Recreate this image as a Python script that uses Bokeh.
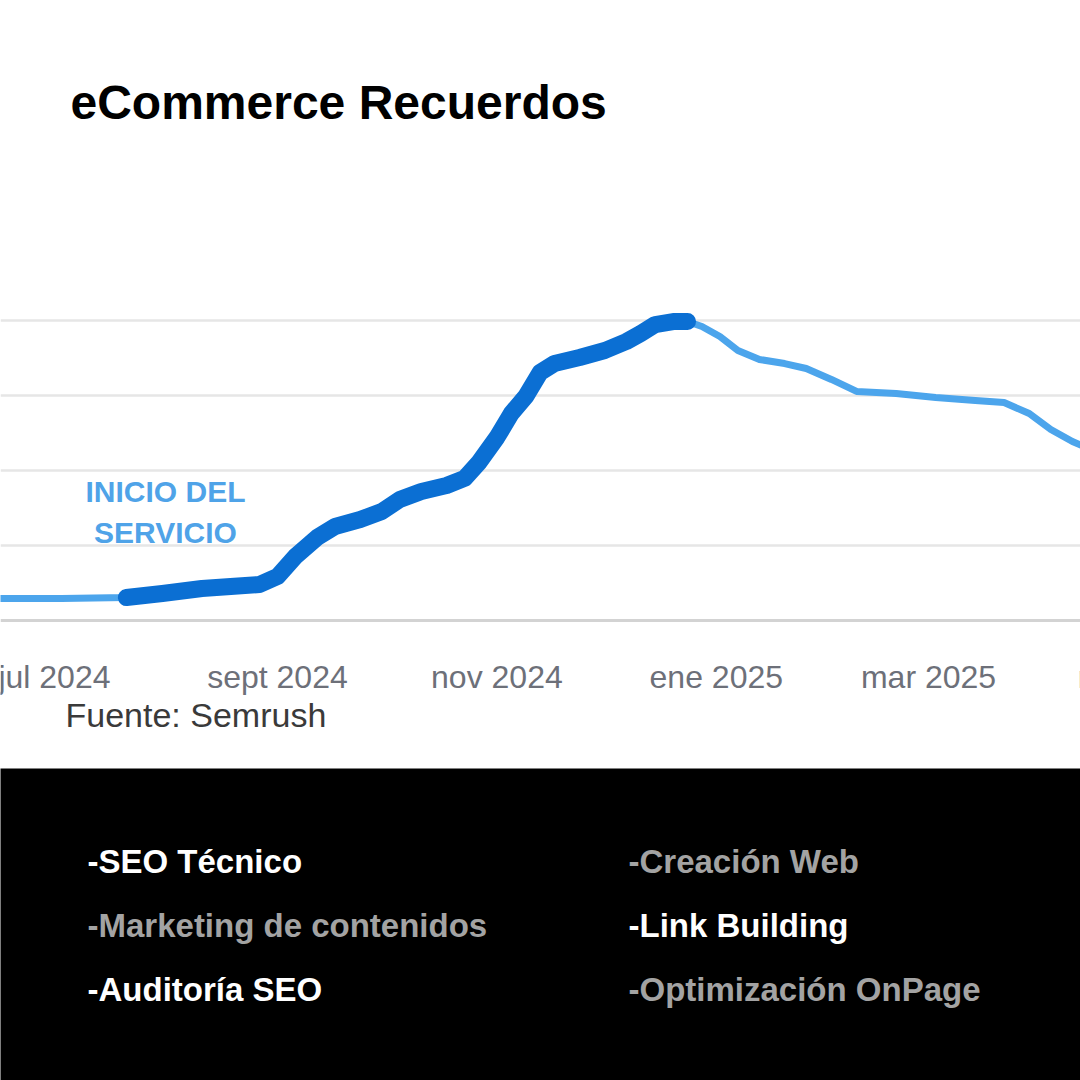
import pandas as pd
from bokeh.plotting import figure
from bokeh.models import Range1d, FixedTicker, Span, Label, ColumnDataSource, Grid
from bokeh.layouts import column
from bokeh.embed import file_html
from bokeh.resources import INLINE
from bokeh.core.properties import value

# ---------------- data ----------------
title_text = "eCommerce Recuerdos"
source_text = "Fuente: Semrush"
annotation_lines = ["INICIO DEL", "SERVICIO"]

dates = [
    "2024-06-10", "2024-06-16", "2024-07-03", "2024-07-21", "2024-07-31",
    "2024-08-11", "2024-08-19", "2024-08-27", "2024-09-01", "2024-09-06",
    "2024-09-12", "2024-09-17", "2024-09-24", "2024-09-30", "2024-10-05",
    "2024-10-11", "2024-10-18", "2024-10-23", "2024-10-27", "2024-11-01",
    "2024-11-05", "2024-11-09", "2024-11-13", "2024-11-17", "2024-11-24",
    "2024-12-01", "2024-12-07", "2024-12-11", "2024-12-15", "2024-12-20",
    "2024-12-24", "2024-12-28", "2025-01-02", "2025-01-07", "2025-01-13",
    "2025-01-20", "2025-01-26", "2025-02-02", "2025-02-09", "2025-02-20",
    "2025-03-03", "2025-03-14", "2025-03-22", "2025-03-29", "2025-04-04",
    "2025-04-10", "2025-04-16",
]
traffic = [
    147, 147, 147, 153, 180,
    213, 227, 240, 293, 427,
    553, 627, 673, 727, 807,
    860, 900, 947, 1053, 1220,
    1380, 1493, 1653, 1713, 1753,
    1800, 1860, 1913, 1973, 1993,
    1993, 1960, 1893, 1800, 1740,
    1713, 1680, 1607, 1527, 1513,
    1487, 1467, 1453, 1380, 1273,
    1193, 1133,
]
service_start = "2024-07-21"
service_end = "2024-12-24"

tick_dates = ["2024-07-01", "2024-09-01", "2024-11-01", "2025-01-01", "2025-03-01", "2025-05-01"]
tick_labels = ["jul 2024", "sept 2024", "nov 2024", "ene 2025", "mar 2025", "may 2025"]
grid_values = [500, 1000, 1500, 2000]

services = [
    "-SEO Técnico", "-Creación Web",
    "-Marketing de contenidos", "-Link Building",
    "-Auditoría SEO", "-Optimización OnPage",
]
highlighted = [True, False, False, True, True, False]

# ---------------- layout constants ----------------
W, H1, H2 = 1080, 768, 312
FONT = "Liberation Sans"
x_start = pd.Timestamp("2024-06-16")
px_per_day = 3.597
x_end = x_start + pd.Timedelta(days=W / px_per_day)
base_px = 620.0               # baseline position from top (px)
px_per_unit = 75.0 / 500.0    # vertical scale
y_top = base_px / px_per_unit
y_bot = -(H1 - base_px) / px_per_unit

df = pd.DataFrame({"date": pd.to_datetime(dates), "traffic": traffic})
svc = df[(df["date"] >= pd.Timestamp(service_start)) & (df["date"] <= pd.Timestamp(service_end))]

# ---------------- chart figure ----------------
p = figure(
    width=W, height=H1, x_axis_type="datetime",
    x_range=Range1d(x_start, x_end), y_range=Range1d(y_bot, y_top),
    x_axis_location=None, y_axis_location=None,
    toolbar_location=None, output_backend="svg", min_border=0,
    outline_line_color=None, background_fill_color="white", border_fill_color="white",
)
for g in p.grid:
    g.visible = False
p.add_layout(Grid(dimension=1, ticker=FixedTicker(ticks=grid_values),
                  grid_line_color="#e6e6e6", grid_line_width=2.5))
p.add_layout(Span(location=0, dimension="width", line_color="#d3d3d3", line_width=3))

p.line(df["date"], df["traffic"], line_color="#4ca5ec", line_width=7, line_join="round")
p.line(svc["date"], svc["traffic"], line_color="#0b6fd3", line_width=17,
       line_join="round", line_cap="round")

tick_src = ColumnDataSource(dict(x=pd.to_datetime(tick_dates), label=tick_labels,
                                 y=[(base_px - 676) / px_per_unit] * len(tick_labels)))
p.text(x="x", y="y", text="label", source=tick_src, text_align="center",
       text_baseline="alphabetic", text_font=value(FONT), text_font_size="32px",
       text_color="#6d7079")

p.add_layout(Label(x=70, y=H1 - 102, x_units="screen", y_units="screen", text=title_text,
                   text_font=FONT, text_font_size="48px", text_font_style="bold",
                   text_color="#000000", text_baseline="alphabetic"))
p.add_layout(Label(x=65, y=H1 - 714, x_units="screen", y_units="screen", text=source_text,
                   text_font=FONT, text_font_size="34px", text_color="#3a3a3a",
                   text_baseline="alphabetic"))
for i, line in enumerate(annotation_lines):
    p.add_layout(Label(x=165, y=H1 - 491 - 41 * i, x_units="screen", y_units="screen",
                       text=line, text_font=FONT, text_font_size="30px",
                       text_font_style="bold", text_color="#4fa3e8",
                       text_align="center", text_baseline="alphabetic"))

# ---------------- services panel ----------------
q = figure(
    width=W, height=H2, x_range=Range1d(0, W), y_range=Range1d(0, H2),
    x_axis_location=None, y_axis_location=None,
    toolbar_location=None, output_backend="svg", min_border=0,
    outline_line_color=None, background_fill_color="black", border_fill_color="black",
)
for g in q.grid:
    g.visible = False
col_x = [87, 628]
row_y = [H2 - 93, H2 - 157, H2 - 221]
svc_src = ColumnDataSource(dict(
    x=[col_x[i % 2] for i in range(len(services))],
    y=[row_y[i // 2] for i in range(len(services))],
    text=services,
    color=["#ffffff" if h else "#a3a3a3" for h in highlighted],
))
q.text(x="x", y="y", text="text", source=svc_src, text_color="color",
       text_font=value(FONT), text_font_size="33px", text_font_style="bold",
       text_baseline="alphabetic", text_align="left")

layout = column(p, q, spacing=0)
open("out.html", "w").write(file_html(layout, INLINE))
